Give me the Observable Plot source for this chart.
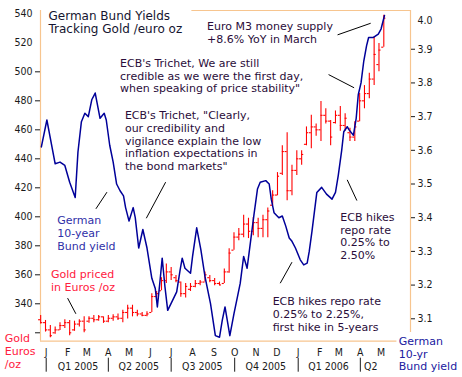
<!DOCTYPE html>
<html><head><meta charset="utf-8">
<script src="https://cdn.jsdelivr.net/npm/d3@7"></script>
<script src="https://cdn.jsdelivr.net/npm/@observablehq/plot@0.6"></script>
<style>body{margin:0;background:#fff;}</style>
</head><body><div id="chart"></div>
<script>
// ---- Gold priced in euros, weekly bars ----
const goldWeeks = ["2004-12-24","2004-12-31","2005-01-07","2005-01-14","2005-01-21","2005-01-28","2005-02-04","2005-02-11","2005-02-18","2005-02-25",
"2005-03-04","2005-03-11","2005-03-18","2005-03-25","2005-04-01","2005-04-08","2005-04-15","2005-04-22","2005-04-29","2005-05-06",
"2005-05-13","2005-05-20","2005-05-27","2005-06-03","2005-06-10","2005-06-17","2005-06-24","2005-07-01","2005-07-08","2005-07-15",
"2005-07-22","2005-07-29","2005-08-05","2005-08-12","2005-08-19","2005-08-26","2005-09-02","2005-09-09","2005-09-16","2005-09-23",
"2005-09-30","2005-10-07","2005-10-14","2005-10-21","2005-10-28","2005-11-04","2005-11-11","2005-11-18","2005-11-25","2005-12-02",
"2005-12-09","2005-12-16","2005-12-23","2005-12-30","2006-01-06","2006-01-13","2006-01-20","2006-01-27","2006-02-03","2006-02-10",
"2006-02-17","2006-02-24","2006-03-03","2006-03-10","2006-03-17","2006-03-24","2006-03-31","2006-04-07","2006-04-14","2006-04-21",
"2006-04-28","2006-05-05"];
const goldHigh = [332,328.5,325,324,327,329,328.5,328,329,331, 331,332,332,331,332,332.5,333,335.5,339,339,
335.5,334,334.5,347,348.5,358,367.5,365,359.5,355, 354,354,356,356,362,359.5,357.5,355,364,378,
389,392,401,399,399.5,399,401,406,418,430.5, 449,458,435.5,445.5,445.5,462,470,464,479.5,474.5,
466.5,473,476,471,461,465.5,485,490.5,499,524, 519.5,539];
const goldLow = [326,320.5,316.5,319,321.5,323,318,321,324,320, 326.5,327,328,326.5,327,328,328.5,327,329.5,331,
331,331,331,334,342,349,354,356,354.5,344.5, 344,348.5,351,352.5,355,354.5,352.5,352.5,354,361,
377,383.5,385.5,385,387,385.5,385.5,385.5,408,414.5, 428.5,411,414.5,428.5,435.5,449,447,455.5,452,464,
449,464,459,459,452,452,465.5,474.5,481.5,490.5, 500,517];
const goldOpen = [329,327,322,320,322,325,327,322,326,328, 328,330,329,331,328,330,331,330,334,337,
334,333,332,334,345,349,356,362,358,355, 347,350,352,354,355,358,356,354,354,362,
377,386,388,395,390,396,392,398,408,415, 430,445,418,432,440,450,458,462,460,470,
466,465,470,463,458,455,466,480,485,495, 505,517];
const goldClose = [327,322,318,322,325,327,320,326,328,322, 330,329,331,328,330,331,330,334,337,334,
333,332,333,345,347,356,362,360,356,347, 352,352,354,355,360,356,354,353,362,375,
386,388,395,390,396,392,398,404,415,428, 445,418,432,440,443,458,462,460,470,466,
455,470,463,468,455,462,480,485,495,512, 515,537];

// ---- German 10-year Bund yield (%) ----
const bundDates = ["2004-12-25","2005-01-02","2005-01-14","2005-01-21","2005-01-28","2005-02-04","2005-02-12","2005-02-16","2005-02-21","2005-02-26",
"2005-03-03","2005-03-08","2005-03-13","2005-03-20","2005-03-26","2005-03-29","2005-04-03","2005-04-08","2005-04-13","2005-04-18",
"2005-04-23","2005-04-26","2005-05-01","2005-05-07","2005-05-10","2005-05-15","2005-05-21","2005-05-27","2005-06-03","2005-06-08",
"2005-06-11","2005-06-15","2005-06-18","2005-06-22","2005-06-26","2005-07-02","2005-07-09","2005-07-14","2005-07-17","2005-07-21",
"2005-07-29","2005-08-01","2005-08-07","2005-08-13","2005-08-19","2005-08-27","2005-09-03","2005-09-09","2005-09-13","2005-09-17",
"2005-09-24","2005-09-30","2005-10-05","2005-10-09","2005-10-14","2005-10-19","2005-10-24","2005-10-29","2005-11-03","2005-11-07",
"2005-11-15","2005-11-20","2005-11-23","2005-11-27","2005-12-04","2005-12-09","2005-12-14","2005-12-19","2005-12-23","2005-12-28",
"2006-01-04","2006-01-09","2006-01-14","2006-01-17","2006-01-21","2006-01-28","2006-02-04","2006-02-11","2006-02-19","2006-02-24",
"2006-02-28","2006-03-05","2006-03-08","2006-03-13","2006-03-16","2006-03-22","2006-03-26","2006-03-29","2006-04-02","2006-04-06",
"2006-04-10","2006-04-13","2006-04-20","2006-04-27","2006-05-01","2006-05-06"];
const bundYield = [3.61,3.69,3.56,3.565,3.555,3.505,3.46,3.595,3.685,3.71,
3.70,3.75,3.77,3.695,3.71,3.69,3.615,3.565,3.50,3.48,
3.465,3.43,3.39,3.43,3.40,3.31,3.365,3.31,3.22,3.19,
3.135,3.215,3.28,3.195,3.125,3.15,3.18,3.245,3.28,3.25,
3.235,3.285,3.37,3.305,3.225,3.145,3.05,3.045,3.095,3.135,
3.05,3.115,3.165,3.205,3.285,3.25,3.33,3.41,3.485,3.505,
3.51,3.50,3.455,3.415,3.40,3.405,3.375,3.34,3.33,3.31,
3.275,3.26,3.265,3.30,3.36,3.475,3.49,3.47,3.455,3.475,
3.525,3.60,3.655,3.67,3.66,3.645,3.695,3.765,3.80,3.865,
3.91,3.935,3.935,3.945,3.96,4.00];

// ---- axes ----
const monthTicks = ["2005-01-01","2005-02-01","2005-03-01","2005-04-01","2005-05-01","2005-06-01","2005-07-01","2005-08-01","2005-09-01",
"2005-10-01","2005-11-01","2005-12-01","2006-01-01","2006-02-01","2006-03-01","2006-04-01","2006-05-01"];
const monthLabels = ["J","F","M","A","M","J","J","A","S","O","N","D","J","F","M","A","M"];
const quarterStarts = ["2005-01-01","2005-04-01","2005-07-01","2005-10-01","2006-01-01","2006-04-01"];
const quarterLabels = ["Q1 2005","Q2 2005","Q3 2005","Q4 2005","Q1 2006","Q2"];
const quarterLabelDates = ["2005-02-16","2005-05-15","2005-08-15","2005-11-15","2006-02-14","2006-04-16"];
const goldTicks = [320,340,360,380,400,420,440,460,480,500,520,540];
const yieldTicks = [3.1,3.2,3.3,3.4,3.5,3.6,3.7,3.8,3.9,4.0];

// ---- annotations ----
const noteTexts = ["Euro M3 money supply\n+8.6% YoY in March",
"ECB's Trichet, We are still\ncredible as we were the first day,\nwhen speaking of price stability\"",
"ECB's Trichet, \"Clearly,\nour credibility and\nvigilance explain the low\ninflation expectations in\nthe bond markets\"",
"German\n10-year\nBund yield",
"Gold priced\nin Euros /oz",
"ECB hikes\nrepo rate\n0.25% to\n2.50%",
"ECB hikes repo rate\n0.25% to 2.25%,\nfirst hike in 5-years"];
const noteDates = ["2005-08-22","2005-04-18","2005-04-25","2005-01-17","2005-01-08","2006-03-03","2005-11-25"];
const noteValues = [535.2,509.7,473.7,401.2,363.7,403.5,345.4];
const noteColors = ["#2a0d3a","#2a0d3a","#2a0d3a","#3030a8","#ff2040","#2a0d3a","#2a0d3a"];
const leaderFromDates = ["2006-02-27","2006-02-14","2005-05-26","2005-03-14","2005-02-01","2006-03-13","2005-12-06"];
const leaderFromValues = [525.5,498.1,399.0,405.5,343.9,425.5,354.2];
const leaderToDates = ["2006-04-16","2006-03-23","2005-06-23","2005-03-30","2005-02-13","2006-03-27","2005-12-23"];
const leaderToValues = [533.5,489.0,423.9,417.0,333.1,411.2,368.7];

// ---- build ----
const parse = d3.utcParse("%Y-%m-%d");
const DAY = 864e5;
const gold = goldWeeks.map((d, i) => ({date: parse(d), hi: goldHigh[i], lo: goldLow[i], op: goldOpen[i], cl: goldClose[i]}));
const toGold = v => 329.66 + (v - 3.1) * 232.4;
const fromGold = g => (g - 329.66) / 232.4 + 3.1;
const bund = bundDates.map((d, i) => ({date: parse(d), g: toGold(bundYield[i])}));
const notes = noteTexts.map((t, i) => ({text: t, date: parse(noteDates[i]), v: noteValues[i], color: noteColors[i]}));
const leaders = leaderFromDates.map((d, i) => ({x1: parse(d), y1: leaderFromValues[i], x2: parse(leaderToDates[i]), y2: leaderToValues[i]}));
const monthMap = new Map(monthTicks.map((d, i) => [+parse(d), monthLabels[i]]));
const quarters = quarterLabels.map((l, i) => ({label: l, date: parse(quarterLabelDates[i])}));

const xStart = new Date(Date.UTC(2004, 11, 23, 18));
const xEnd = new Date(Date.UTC(2006, 5, 12, 16));
const yMin = 314.2, yMax = 542.3;
const frameColor = "#f7c58f";
const red = "#ff0000";
const FONT = "'DejaVu Sans Condensed', 'DejaVu Sans', sans-serif";
const WIDE = "'DejaVu Sans', sans-serif";

const chart = Plot.plot({
  width: 462, height: 377,
  marginLeft: 40, marginRight: 52, marginTop: 10, marginBottom: 36.3,
  x: {type: "utc", domain: [xStart, xEnd]},
  y: {domain: [yMin, yMax]},
  style: {fontFamily: FONT, fontSize: "10px", color: "#1a1a1a", background: "#fff", overflow: "visible"},
  marks: [
    // frame
    Plot.ruleX([xStart], {stroke: frameColor, strokeWidth: 1.2}),
    Plot.ruleX([xEnd], {y1: 320.2, y2: yMax, stroke: frameColor, strokeWidth: 1.2}),
    Plot.ruleY([yMin], {x1: () => xStart, x2: () => parse("2006-05-24"), stroke: frameColor, strokeWidth: 1.2}),
    Plot.ruleY([yMax], {x1: () => parse("2005-07-31"), x2: () => xEnd, stroke: frameColor, strokeWidth: 1.2}),
    // gold bars
    Plot.ruleX(gold, {x: "date", y1: "lo", y2: "hi", stroke: red, strokeWidth: 1.1}),
    Plot.ruleY(gold, {y: "op", x1: d => new Date(+d.date - 3 * DAY), x2: "date", stroke: red, strokeWidth: 1.1}),
    Plot.ruleY(gold, {y: "cl", x1: "date", x2: d => new Date(+d.date + 3 * DAY), stroke: red, strokeWidth: 1.1}),
    // bund line
    Plot.line(bund, {x: "date", y: "g", stroke: "#000099", strokeWidth: 1.5}),
    // left axis
    Plot.axisY({anchor: "left", ticks: goldTicks.filter(t => t >= 340 && t <= 500), tickSize: 5, tickPadding: 3, fontSize: 10.5}),
    Plot.axisY({anchor: "left", ticks: goldTicks.filter(t => t < 340), tickSize: 5, tickFormat: () => ""}),
    Plot.axisY({anchor: "left", ticks: goldTicks.filter(t => t > 500), tickSize: 0, tickPadding: 8, fontSize: 10.5}),
    // right axis
    Plot.axisY({anchor: "right", ticks: yieldTicks.filter(v => v < 3.95).map(toGold), tickSize: 4, tickPadding: 3,
      tickFormat: g => fromGold(g).toFixed(1), fontSize: 10.5}),
    Plot.axisY({anchor: "right", ticks: yieldTicks.filter(v => v > 3.95).map(toGold), tickSize: 0, tickPadding: 7, dy: 5,
      tickFormat: g => fromGold(g).toFixed(1), fontSize: 10.5}),
    // bottom axis: month letters, quarter separators, quarter labels
    Plot.axisX({ticks: monthTicks.map(parse), tickSize: 0, tickPadding: 7, tickFormat: d => monthMap.get(+d), fontSize: 10.5}),
    Plot.axisX({ticks: quarterStarts.map(parse), tickSize: 14, dy: 17, tickFormat: () => "", stroke: "#1a1a1a"}),
    Plot.text(quarters, {x: "date", text: "label", frameAnchor: "bottom", lineAnchor: "top", dy: 21.8, fontSize: 10.5, fill: "#1a1a1a"}),
    // leader lines
    Plot.link(leaders, {x1: "x1", y1: "y1", x2: "x2", y2: "y2", stroke: "#000", strokeWidth: 1}),
    // annotations
    Plot.text(notes, {x: "date", y: "v", text: "text", fill: "color", textAnchor: "start", lineAnchor: "top", fontSize: 11, lineHeight: 1.16, fontFamily: WIDE}),
    // title
    Plot.text(["German Bund Yields\nTracking Gold /euro oz"], {text: d => d, frameAnchor: "top-left", dx: 8, dy: -0.2,
      textAnchor: "start", lineAnchor: "top", fontSize: 12, lineHeight: 1.12, fill: "#151530", fontFamily: WIDE}),
    // axis titles
    Plot.text(["Gold\nEuros\n/oz"], {text: d => d, frameAnchor: "bottom-left", dx: -35.7, dy: -7.8,
      textAnchor: "start", lineAnchor: "top", fontSize: 11, lineHeight: 1.15, fill: "#ff2040", fontFamily: WIDE}),
    Plot.text(["German\n10-yr\nBund yield"], {text: d => d, frameAnchor: "bottom-right", dx: -11.7, dy: -5.2,
      textAnchor: "start", lineAnchor: "top", fontSize: 11, lineHeight: 1.15, fill: "#2020a0", fontFamily: WIDE})
  ]
});
document.getElementById("chart").append(chart);
</script>
</body></html>
